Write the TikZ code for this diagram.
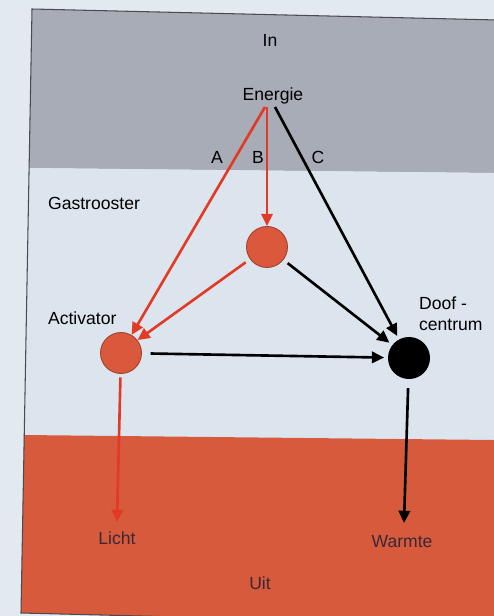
\documentclass[tikz,border=0pt]{standalone}
\usepackage{fontspec}
\setmainfont{Liberation Sans}
\usetikzlibrary{arrows.meta}
\definecolor{bgc}{HTML}{E2E9EF}
\definecolor{grayband}{HTML}{A8ACB6}
\definecolor{midc}{HTML}{DCE5EE}
\definecolor{redband}{HTML}{D65A3B}
\definecolor{circfill}{HTML}{DA583C}
\definecolor{circline}{HTML}{A2402E}
\definecolor{redarrow}{HTML}{E23A26}
\definecolor{frameline}{HTML}{4A4A52}
\definecolor{uittext}{HTML}{3A2838}
\begin{document}
\begin{tikzpicture}[x=0.02cm,y=-0.02cm,
  lbl/.style={font=\fontsize{10}{12}\selectfont, inner sep=1pt},
  uitlbl/.style={lbl, text=uittext},
  redcirc/.style={circle, minimum size=41*0.02cm, inner sep=0pt, fill=circfill, draw=circline, line width=0.5pt},
  blackcirc/.style={circle, minimum size=42*0.02cm, inner sep=0pt, fill=black},
  conn/.style={line width=1.5pt, -{Triangle[length=7pt,width=6.5pt]}},
  redconn/.style={conn, draw=redarrow},
  blackconn/.style={conn, draw=black}]
\useasboundingbox (0,0) rectangle (494,616);
\clip (0,0) rectangle (494,616);
\fill[bgc] (0,0) rectangle (494,616);
% bands
\fill[grayband] (32,9) -- (540,21) -- (540,173.5) -- (29,168) -- cycle;
\fill[midc] (29,168) -- (540,173.5) -- (540,440.5) -- (24,435) -- cycle;
\fill[redband] (24,435) -- (540,440.5) -- (540,626) -- (21,613) -- cycle;
\draw[frameline, line width=0.6pt] (540,21) -- (32,9) -- (21,613) -- (540,626);
% labels
\node[lbl] (in) at (270,40) {In};
\node[lbl] (energie) at (273,96) {Energie};
\node[lbl] (la) at (217,157) {A};
\node[lbl] (lb) at (258,157) {B};
\node[lbl] (lc) at (318,157) {C};
\node[lbl, anchor=west] (gas) at (46,203) {Gastrooster};
\node[lbl, anchor=west] (actlbl) at (46,318) {Activator};
\node[lbl, anchor=west, align=left] (dooflbl) at (417,314) {Doof -\\centrum};
\node[uitlbl] (licht) at (117,538) {Licht};
\node[uitlbl] (warmte) at (402,542) {Warmte};
\node[uitlbl] (uit) at (260,583) {Uit};
% circles
\node[redcirc] (mid) at (267,247) {};
\node[redcirc] (act) at (121,353) {};
\node[blackcirc] (doof) at (409,358) {};
% start points
\coordinate (eA) at (265,107);
\coordinate (eB) at (267,107);
\coordinate (eC) at (275,107);
\coordinate (lichtend) at (117,522);
\coordinate (warmend) at (404,523);
% connectors
\draw[redconn] (eA) -- (act);
\draw[redconn] (eB) -- (mid);
\draw[blackconn, shorten >=2pt] (eC) -- (doof);
\draw[redconn, shorten <=3pt] (mid) -- (act.38);
\draw[blackconn, shorten <=3pt, shorten >=2pt] (mid) -- (doof);
\draw[blackconn, shorten <=5pt, shorten >=2pt] (act) -- (doof);
\draw[redconn, shorten <=2pt] (act) -- (lichtend);
\draw[blackconn, shorten <=5pt] (doof) -- (warmend);
\end{tikzpicture}
\end{document}
